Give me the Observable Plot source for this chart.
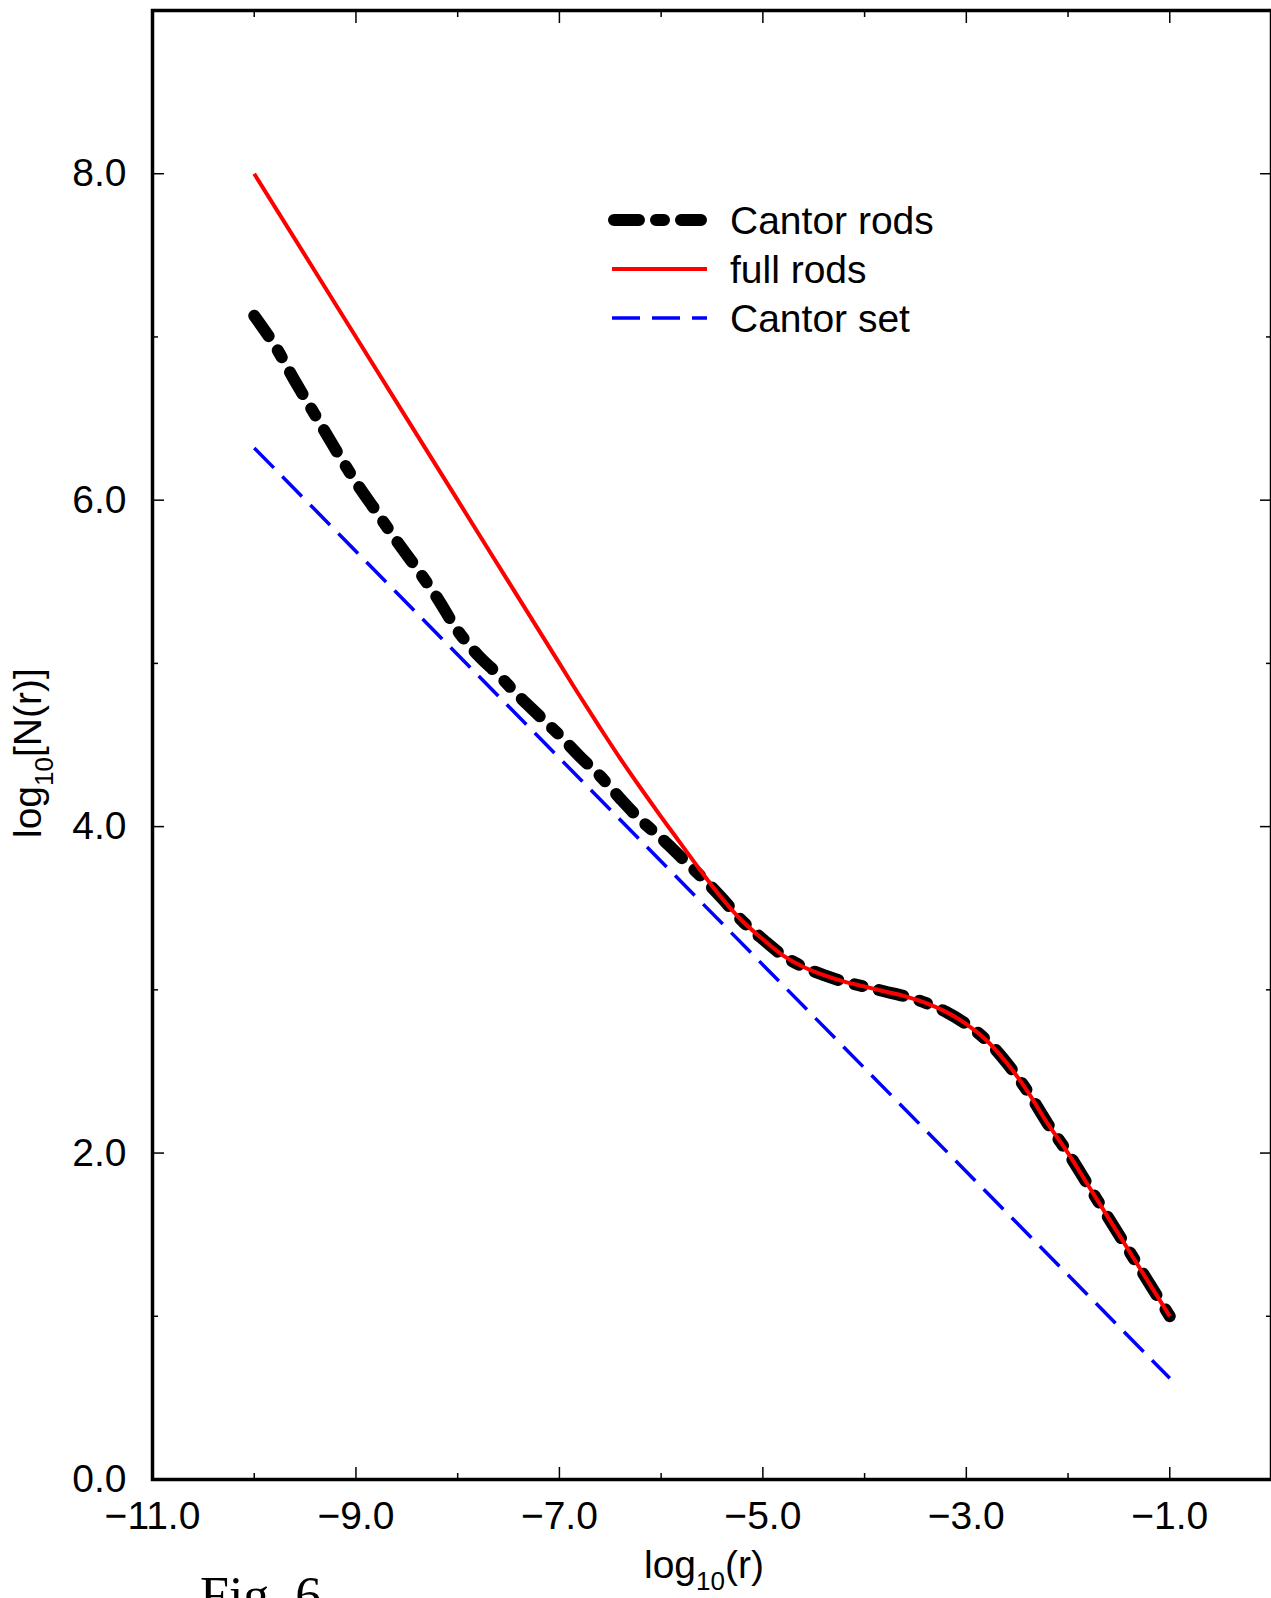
<!DOCTYPE html>
<html>
<head>
<meta charset="utf-8">
<script src="https://cdn.jsdelivr.net/npm/d3@7"></script>
<script src="https://cdn.jsdelivr.net/npm/@observablehq/plot@0.6"></script>
<style>
  html, body { margin: 0; padding: 0; background: #fff; }
  #chart svg { display: block; }
</style>
</head>
<body>
<div id="chart"></div>
<script>
// ---- data ----
const cantorRodsX = [-10.0, -9.8, -9.6, -9.4, -9.2, -9.0, -8.8, -8.6, -8.4, -8.2, -8.0, -7.8, -7.6, -7.4, -7.2, -7.0, -6.8, -6.6, -6.4, -6.2, -6.0, -5.8, -5.6, -5.4, -5.2, -5.0, -4.8, -4.6, -4.4, -4.2, -4.0, -3.8, -3.6, -3.4, -3.2, -3.0, -2.8, -2.6, -2.4, -2.2, -2.0, -1.8, -1.6, -1.4, -1.2, -1.0];
const cantorRodsY = [7.13, 6.95, 6.73, 6.52, 6.31, 6.11, 5.93, 5.75, 5.58, 5.40, 5.20, 5.05, 4.93, 4.80, 4.68, 4.56, 4.43, 4.31, 4.17, 4.04, 3.93, 3.81, 3.69, 3.56, 3.42, 3.31, 3.21, 3.14, 3.09, 3.05, 3.02, 2.99, 2.96, 2.92, 2.865, 2.79, 2.69, 2.55, 2.38, 2.18, 2.00, 1.80, 1.60, 1.40, 1.20, 1.00];

const fullRodsX = [-10.0, -9.0, -8.0, -7.0, -6.8, -6.6, -6.4, -6.2, -6.0, -5.8, -5.6, -5.4, -5.2, -5.0, -4.8, -4.6, -4.4, -4.2, -4.0, -3.8, -3.6, -3.4, -3.2, -3.0, -2.8, -2.6, -2.4, -2.2, -2.0, -1.8, -1.6, -1.4, -1.2, -1.0];
const fullRodsY = [8.00, 7.00, 6.00, 5.00, 4.80, 4.605, 4.415, 4.235, 4.06, 3.89, 3.72, 3.56, 3.42, 3.31, 3.21, 3.14, 3.09, 3.05, 3.02, 2.99, 2.96, 2.92, 2.865, 2.79, 2.69, 2.55, 2.38, 2.18, 2.00, 1.80, 1.60, 1.40, 1.20, 1.00];

const cantorSetX = [-10.0, -1.0];
const cantorSetY = [6.32, 0.62];

const xMajorTicks = [-11, -9, -7, -5, -3, -1];
const xMinorTicks = [-10, -8, -6, -4, -2];
const yMajorTicks = [0, 2, 4, 6, 8];
const yMinorTicks = [1, 3, 5, 7];

const seriesNames = ["Cantor rods", "full rods", "Cantor set"];

// ---- build tables ----
const toRows = (xs, ys) => xs.map((x, i) => ({x, y: ys[i]}));
const cantorRods = toRows(cantorRodsX, cantorRodsY);
const fullRods = toRows(fullRodsX, fullRodsY);
const cantorSet = toRows(cantorSetX, cantorSetY);

const FONT = "'Liberation Sans', Arial, Helvetica, sans-serif";
const fmt = d => d.toFixed(1).replace("-", "\u2212");

const styles = [
  {stroke: "#000000", strokeWidth: 12, strokeDasharray: "25 17 8 17", strokeLinecap: "round"},
  {stroke: "#ff0000", strokeWidth: 4, strokeDasharray: null, strokeLinecap: "butt"},
  {stroke: "#0000ff", strokeWidth: 3.5, strokeDasharray: "28 12", strokeLinecap: "butt"}
];

const chart = Plot.plot({
  width: 1271,
  height: 1598,
  marginLeft: 152,
  marginRight: 0,
  marginTop: 10,
  marginBottom: 119,
  style: {fontFamily: FONT, fontSize: "39px", background: "#fff", color: "#000"},
  x: {domain: [-11, 0]},
  y: {domain: [0, 9]},
  marks: [
    // ticks (inward)
    Plot.axisX(xMajorTicks, {anchor: "bottom", tickSize: -12, strokeWidth: 1.5, fill: "none", label: null}),
    Plot.axisX(xMinorTicks, {anchor: "bottom", tickSize: -6, strokeWidth: 1.5, fill: "none", label: null}),
    Plot.axisX(xMajorTicks, {anchor: "top", tickSize: -12, strokeWidth: 1.5, fill: "none", label: null}),
    Plot.axisX(xMinorTicks, {anchor: "top", tickSize: -6, strokeWidth: 1.5, fill: "none", label: null}),
    Plot.axisY(yMajorTicks, {anchor: "left", tickSize: -12, strokeWidth: 1.5, fill: "none", label: null}),
    Plot.axisY(yMinorTicks, {anchor: "left", tickSize: -6, strokeWidth: 1.5, fill: "none", label: null}),
    Plot.axisY(yMajorTicks, {anchor: "right", tickSize: -12, strokeWidth: 1.5, fill: "none", label: null}),
    Plot.axisY(yMinorTicks, {anchor: "right", tickSize: -6, strokeWidth: 1.5, fill: "none", label: null}),
    // tick labels
    Plot.axisX(xMajorTicks, {anchor: "bottom", tickSize: 0, tickPadding: 22, tickFormat: fmt, label: null, fontSize: 39, fill: "#000"}),
    Plot.axisY(yMajorTicks, {anchor: "left", tickSize: 0, tickPadding: 26, tickFormat: fmt, label: null, fontSize: 39, fill: "#000"}),
    // data
    Plot.line(cantorRods, {x: "x", y: "y", curve: "catmull-rom", ...styles[0]}),
    Plot.line(fullRods, {x: "x", y: "y", curve: "catmull-rom", ...styles[1]}),
    Plot.line(cantorSet, {x: "x", y: "y", ...styles[2]}),
    // frame
    Plot.frame({stroke: "#000", strokeWidth: 3.5})
  ]
});

document.getElementById("chart").appendChild(chart);

// ---- labels, legend, caption ----
const svg = d3.select(chart);

function subLabel(g, main, sub, rest) {
  const t = g.append("text")
    .attr("text-anchor", "start")
    .attr("font-family", FONT).attr("font-size", 39).attr("fill", "#000");
  t.append("tspan").text(main);
  t.append("tspan").attr("font-size", 26).attr("dy", 12).text(sub);
  t.append("tspan").attr("dy", -12).text(rest);
  return t;
}

// x-axis title
const gx = svg.append("g").attr("transform", "translate(644,1578)");
subLabel(gx, "log", "10", "(r)");

// y-axis title
const gy = svg.append("g").attr("transform", "translate(41,838) rotate(-90)");
subLabel(gy, "log", "10", "[N(r)]");

// legend
const legendBaselines = [234, 283, 332];
const leg = svg.append("g");
seriesNames.forEach((name, i) => {
  const s = styles[i];
  const yb = legendBaselines[i];
  const inset = s.strokeLinecap === "round" ? s.strokeWidth / 2 : 0;
  leg.append("line")
    .attr("x1", 612 + inset - 4 * (i === 0)).attr("x2", 707 - inset)
    .attr("y1", yb - 14).attr("y2", yb - 14)
    .attr("stroke", s.stroke).attr("stroke-width", s.strokeWidth)
    .attr("stroke-dasharray", s.strokeDasharray)
    .attr("stroke-linecap", s.strokeLinecap);
  leg.append("text")
    .attr("x", 730).attr("y", yb)
    .attr("text-anchor", "start")
    .attr("font-family", FONT).attr("font-size", 39).attr("fill", "#000")
    .text(name);
});

// caption (cut off at the bottom, as in the original)
svg.append("text")
  .attr("x", 200).attr("y", 1613)
  .attr("text-anchor", "start")
  .attr("font-family", "'Liberation Serif', 'Times New Roman', Times, serif")
  .attr("font-size", 52).attr("fill", "#000")
  .text("Fig. 6");
</script>
</body>
</html>
